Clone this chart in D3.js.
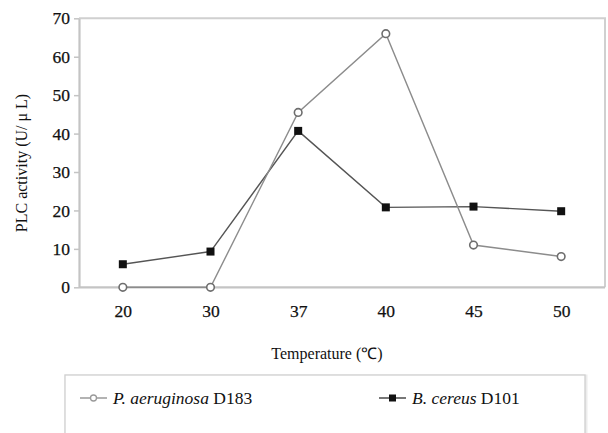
<!DOCTYPE html>
<html>
<head>
<meta charset="utf-8">
<script src="https://cdn.jsdelivr.net/npm/d3@7"></script>
<style>
  html, body { margin: 0; padding: 0; background: #fff; }
  svg { display: block; }
  svg text { font-family: "Liberation Serif", "Times New Roman", serif; }
</style>
</head>
<body>
<svg id="chart" width="608" height="433"></svg>
<script>
// Temperature categories (°C) and PLC activity for the two strains
const temperatures = ["20", "30", "37", "40", "45", "50"];
const pAeruginosa = [0, 0, 45.5, 66, 11, 8];
const bCereus = [6, 9.3, 40.7, 20.8, 21, 19.8];
const yTicks = [0, 10, 20, 30, 40, 50, 60, 70];

const svg = d3.select("#chart");
const box = { left: 79, right: 605, top: 18.3, bottom: 287.3 };

const x = d3.scalePoint().domain(temperatures).range([box.left, box.right]).padding(0.5);
const y = d3.scaleLinear().domain([0, 70]).range([box.bottom, box.top]);

const axisGrey = "#c4c4c4";
const serif = "'Liberation Serif', 'Times New Roman', serif";

// frame: top and right edges
svg.append("path")
  .attr("d", `M${box.left},${box.top}H${box.right}V${box.bottom}`)
  .attr("fill", "none").attr("stroke", "#d0d0d0").attr("stroke-width", 2);

// y axis
const yAxis = svg.append("g")
  .attr("transform", `translate(${box.left},0)`)
  .call(d3.axisLeft(y).tickValues(yTicks).tickSize(5).tickSizeOuter(0).tickPadding(4));
yAxis.attr("font-family", null).style("font-family", serif);
yAxis.select(".domain").attr("stroke", axisGrey).attr("stroke-width", 2.2);
yAxis.selectAll(".tick line").attr("stroke", axisGrey).attr("stroke-width", 1.5);
yAxis.selectAll(".tick text").attr("font-size", 17.5).attr("fill", "#111")
  .attr("stroke", "#111").attr("stroke-width", 0.25)
  .style("font-family", serif);

// x axis
const xAxis = svg.append("g")
  .attr("transform", `translate(0,${box.bottom})`)
  .call(d3.axisBottom(x).tickSize(0).tickPadding(17));
xAxis.attr("font-family", null).style("font-family", serif);
xAxis.select(".domain").attr("stroke", axisGrey).attr("stroke-width", 2.2)
  .attr("d", `M${box.left},0H${box.right}`);
xAxis.selectAll(".tick text").attr("font-size", 17.5).attr("fill", "#111")
  .attr("stroke", "#111").attr("stroke-width", 0.25)
  .style("font-family", serif);

// axis titles
svg.append("text")
  .attr("transform", "translate(21,163) rotate(-90)")
  .attr("text-anchor", "middle").attr("dominant-baseline", "central")
  .attr("font-size", 16).attr("fill", "#111")
  .text("PLC activity (U/ μ L)");

svg.append("text")
  .attr("x", 327).attr("y", 353)
  .attr("text-anchor", "middle").attr("dominant-baseline", "central")
  .attr("font-size", 16).attr("fill", "#111")
  .text("Temperature (℃)");

// series lines
const line = d3.line().x((d, i) => x(temperatures[i])).y(d => y(d));

svg.append("path").datum(bCereus)
  .attr("d", line).attr("fill", "none")
  .attr("stroke", "#555").attr("stroke-width", 1.4);

svg.append("path").datum(pAeruginosa)
  .attr("d", line).attr("fill", "none")
  .attr("stroke", "#8c8c8c").attr("stroke-width", 1.4);

// markers
svg.append("g").selectAll("rect").data(bCereus).join("rect")
  .attr("x", (d, i) => x(temperatures[i]) - 4)
  .attr("y", d => y(d) - 4)
  .attr("width", 8).attr("height", 8)
  .attr("fill", "#111");

svg.append("g").selectAll("circle").data(pAeruginosa).join("circle")
  .attr("cx", (d, i) => x(temperatures[i]))
  .attr("cy", d => y(d))
  .attr("r", 3.8)
  .attr("fill", "#fff").attr("stroke", "#6e6e6e").attr("stroke-width", 1.6);

// legend
const legend = svg.append("g");
legend.append("rect")
  .attr("x", 66).attr("y", 376).attr("width", 520).attr("height", 80)
  .attr("fill", "none").attr("stroke", "#ececec").attr("stroke-width", 3);
legend.append("rect")
  .attr("x", 65).attr("y", 375).attr("width", 520).attr("height", 80)
  .attr("fill", "#fff").attr("stroke", "#d0d0d0").attr("stroke-width", 1.3);

const legendItems = [
  { italic: "P. aeruginosa", plain: " D183", x0: 80, color: "#9a9a9a", marker: "circle" },
  { italic: "B. cereus", plain: " D101", x0: 379, color: "#4a4a4a", marker: "square" }
];
const ly = 398;
legendItems.forEach(item => {
  legend.append("line")
    .attr("x1", item.x0).attr("x2", item.x0 + 27)
    .attr("y1", ly).attr("y2", ly)
    .attr("stroke", item.color).attr("stroke-width", 1.5);
  const cx = item.x0 + 13.5;
  if (item.marker === "circle") {
    legend.append("circle").attr("cx", cx).attr("cy", ly).attr("r", 3)
      .attr("fill", "#fff").attr("stroke", "#9a9a9a").attr("stroke-width", 1.3);
  } else {
    legend.append("rect").attr("x", cx - 3.5).attr("y", ly - 3.5)
      .attr("width", 7).attr("height", 7).attr("fill", "#111");
  }
  const t = legend.append("text")
    .attr("x", item.x0 + 33).attr("y", ly)
    .attr("dominant-baseline", "central")
    .attr("font-size", 17.5).attr("fill", "#111");
  t.append("tspan").attr("font-style", "italic").text(item.italic);
  t.append("tspan").text(item.plain);
});
</script>
</body>
</html>
